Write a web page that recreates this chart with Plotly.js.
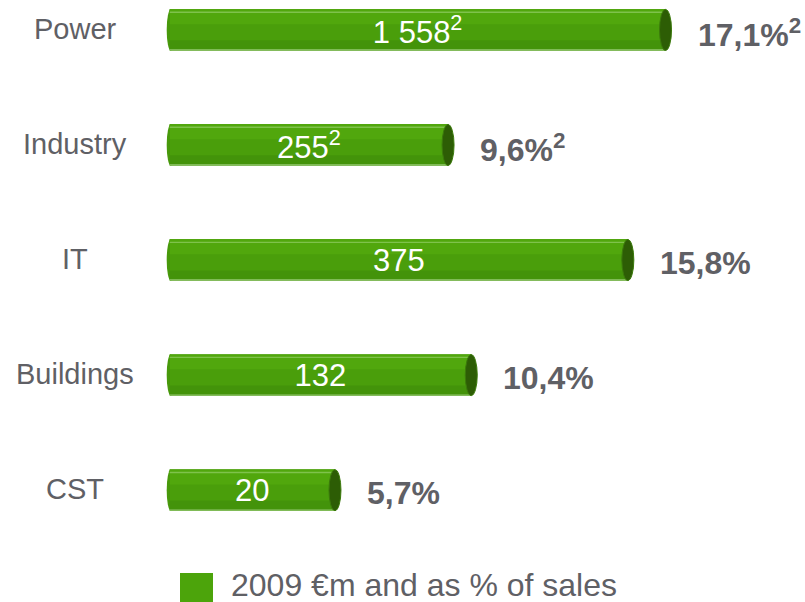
<!DOCTYPE html>
<html>
<head>
<meta charset="utf-8">
<script src="https://cdn.plot.ly/plotly-3.0.1.min.js"></script>
<style>html,body{margin:0;padding:0;background:#fff;}#chart{width:805px;height:602px;}</style>
</head>
<body>
<div id="chart"></div>
<script>
// Data
const categories = ['Power', 'Industry', 'IT', 'Buildings', 'CST'];
const marginPct = [17.1, 9.6, 15.8, 10.4, 5.7];              // bar length = % of sales
const ebitaLabels = ['1 558<sup>2</sup>', '255<sup>2</sup>', '375', '132', '20']; // 2009 €m
const pctLabels = ['17,1%<sup>2</sup>', '9,6%<sup>2</sup>', '15,8%', '10,4%', '5,7%'];
const legendLabel = '2009 €m and as % of sales';

const FONT = '"Liberation Sans", Arial, sans-serif';
const GREY = '#5f6065';

function band(width, offset, color) {
  return {
    type: 'bar', orientation: 'h', x: marginPct, y: categories,
    width: width, offset: offset,
    marker: {color: color, line: {width: 0}},
    hoverinfo: 'skip', showlegend: false
  };
}

const traces = [
  band(0.36, -0.18, '#43930a'),
  band(0.27, -0.18, '#4a9e0b'),
  band(0.13, -0.18, '#51a70d'),
  band(0.012, -0.16, '#7fc24c'),
  band(0.01, 0.168, '#95c872'),
  {
    type: 'bar', orientation: 'h', x: marginPct, y: categories,
    width: 0.36, offset: -0.18,
    marker: {color: 'rgba(0,0,0,0)', line: {width: 0}},
    text: ebitaLabels, textposition: 'inside', insidetextanchor: 'middle',
    constraintext: 'none',
    textfont: {family: FONT, size: 31, color: '#ffffff'},
    hoverinfo: 'skip', showlegend: false, name: legendLabel
  }
];

const shapes = [];
const annotations = [];
categories.forEach((c, i) => {
  // right end cap (cylinder face)
  shapes.push({
    type: 'circle', layer: 'above',
    xref: 'x', xsizemode: 'pixel', xanchor: marginPct[i], x0: -6, x1: 6,
    yref: 'y', ysizemode: 'pixel', yanchor: c, y0: -20.5, y1: 20.5,
    fillcolor: '#2d5d05', line: {color: '#3b7a0b', width: 1}
  });
  // left rounded end
  shapes.push({
    type: 'circle', layer: 'below',
    xref: 'x', xsizemode: 'pixel', xanchor: 0, x0: -3, x1: 5,
    yref: 'y', ysizemode: 'pixel', yanchor: c, y0: -20.5, y1: 20.5,
    fillcolor: '#48990b', line: {width: 0}
  });
  // category label
  annotations.push({
    xref: 'paper', x: 0, xshift: -86, xanchor: 'center',
    yref: 'y', y: c, yshift: 1, yanchor: 'middle', showarrow: false,
    text: c, font: {family: FONT, size: 29, color: GREY}
  });
  // % of sales label
  annotations.push({
    xref: 'x', x: marginPct[i], xshift: 30, xanchor: 'left',
    yref: 'y', y: c, yshift: -3, yanchor: 'middle', showarrow: false,
    text: '<b>' + pctLabels[i] + '</b>', font: {family: FONT, size: 32, color: GREY}
  });
});

// custom legend
shapes.push({
  type: 'rect', layer: 'above',
  xref: 'paper', xsizemode: 'pixel', xanchor: 0, x0: 19, x1: 52,
  yref: 'paper', ysizemode: 'pixel', yanchor: 0, y0: -52, y1: -23,
  fillcolor: '#4ca40b', line: {width: 0}
});
annotations.push({
  xref: 'paper', x: 0, xshift: 68, xanchor: 'left',
  yref: 'paper', y: 0, yshift: -35, yanchor: 'middle', showarrow: false,
  text: legendLabel, font: {family: FONT, size: 32, color: GREY}
});

const layout = {
  width: 805, height: 602,
  margin: {l: 161.3, r: 8.6, t: 0, b: 52.3},
  paper_bgcolor: '#ffffff', plot_bgcolor: '#ffffff',
  barmode: 'overlay',
  showlegend: false,
  xaxis: {range: [-0.3, 21.6], visible: false, fixedrange: true},
  yaxis: {type: 'category', categoryarray: categories, categoryorder: 'array',
          range: [4.52, -0.26], autorange: false,
          showticklabels: false, showgrid: false, zeroline: false, showline: false, ticks: ''},
  shapes: shapes,
  annotations: annotations,
  font: {family: FONT}
};

Plotly.newPlot('chart', traces, layout, {displayModeBar: false, staticPlot: true});
</script>
</body>
</html>
